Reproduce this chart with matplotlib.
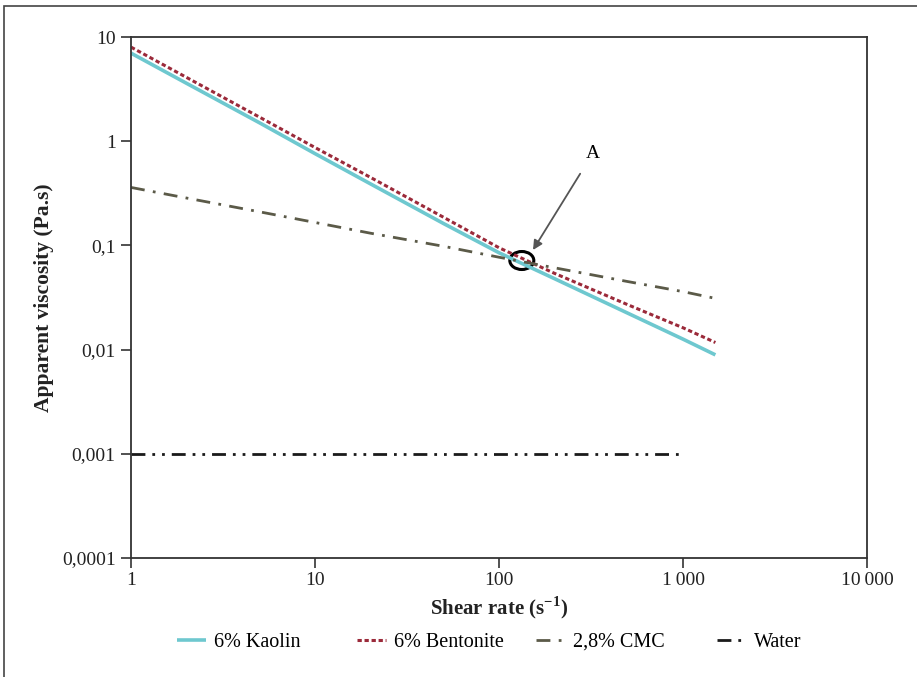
import matplotlib
matplotlib.use("Agg")
import matplotlib.pyplot as plt
from matplotlib.patches import Ellipse, Rectangle
from matplotlib.ticker import FixedLocator, FixedFormatter, NullLocator

plt.rcParams['font.family'] = ['Liberation Serif', 'DejaVu Serif']

# Data
shear = [1, 2, 5, 10, 20, 50, 100, 200, 500, 1000, 1500]
kaolin = [7.0, 3.6, 1.5, 0.76, 0.39, 0.162, 0.085, 0.048, 0.0224, 0.0126, 0.0089]
bentonite = [8.0, 4.1, 1.7, 0.87, 0.45, 0.186, 0.095, 0.054, 0.027, 0.0162, 0.0117]
cmc = [0.36, 0.285, 0.21, 0.166, 0.131, 0.098, 0.077, 0.061, 0.045, 0.036, 0.031]
water_shear = [1, 10, 100, 1000]
water = [0.001, 0.001, 0.001, 0.001]

xticks = [1, 10, 100, 1000, 10000]
xticklabels = ["1", "10", "100", "1\u2009000", "10\u2009000"]
yticks = [0.0001, 0.001, 0.01, 0.1, 1, 10]
yticklabels = ["0,0001", "0,001", "0,01", "0,1", "1", "10"]

W, H = 917, 677
fig = plt.figure(figsize=(W / 100, H / 100), dpi=100)
ax = fig.add_axes([131 / W, 1 - 558 / H, (867 - 131) / W, (558 - 37) / H])

l1, = ax.plot(shear, kaolin, color="#6ec8cf", lw=2.6, solid_capstyle="butt")
l2, = ax.plot(shear, bentonite, color="#9b2a3a", lw=2.2, dashes=(1.4, 0.9))
l3, = ax.plot(shear, cmc, color="#5b5a48", lw=2.0, dashes=(5, 3, 1, 3))
l4, = ax.plot(water_shear, water, color="#1a1a1a", lw=2.0, dashes=(5, 2.5, 1, 2.5, 1, 2.5))

ax.set_xscale("log")
ax.set_yscale("log")
ax.set_xlim(1, 10000)
ax.set_ylim(0.0001, 10)
ax.xaxis.set_major_locator(FixedLocator(xticks))
ax.xaxis.set_major_formatter(FixedFormatter(xticklabels))
ax.yaxis.set_major_locator(FixedLocator(yticks))
ax.yaxis.set_major_formatter(FixedFormatter(yticklabels))
ax.xaxis.set_minor_locator(NullLocator())
ax.yaxis.set_minor_locator(NullLocator())
ax.tick_params(axis="both", direction="out", length=7, width=1.2, color="#333333",
               labelsize=14, labelcolor="#222222")
ax.tick_params(axis="y", pad=4)
ax.tick_params(axis="x", pad=3)
for s in ax.spines.values():
    s.set_color("#333333")
    s.set_linewidth(1.3)

ax.set_xlabel("Shear rate (s$^{\\mathregular{\u22121}}$)", fontsize=15, fontweight="bold",
              labelpad=4, color="#222222")
ax.set_ylabel("Apparent viscosity (Pa.s)", fontsize=15.5, fontweight="bold",
              labelpad=10, color="#222222")
ax.yaxis.set_label_coords(-(131 - 54) / 736, 0.5)

# Annotation A
ax.add_patch(Ellipse((0.531, 0.571), 24 / 736, 18 / 521, transform=ax.transAxes,
                     fill=False, edgecolor="black", lw=2.2))
ax.annotate("A", xy=(533 / W, 1 - 250 / H), xycoords="figure fraction",
            xytext=(593 / W, 1 - 153 / H), textcoords="figure fraction",
            fontsize=14, ha="center", va="center",
            arrowprops=dict(arrowstyle="-|>", color="#555555", lw=1.3,
                            mutation_scale=14, shrinkA=8, shrinkB=0))

# Legend entries (equal-width columns)
entries = [(l1, "6% Kaolin", 177), (l2, "6% Bentonite", 357),
           (l3, "2,8% CMC", 536), (l4, "Water", 717)]
for h, lab, xp in entries:
    fig.legend([h], [lab], loc="center left", bbox_to_anchor=(xp / W, 1 - 642 / H),
               frameon=False, fontsize=14.5, handlelength=1.45, handletextpad=0.4,
               borderpad=0, borderaxespad=0)

# Outer border
fig.add_artist(Rectangle((4 / W, -0.1), 1.2, 1 - 6 / H + 0.1, transform=fig.transFigure,
                         fill=False, edgecolor="#444444", lw=1.2, clip_on=False))

fig.savefig("out.png", dpi=100)
